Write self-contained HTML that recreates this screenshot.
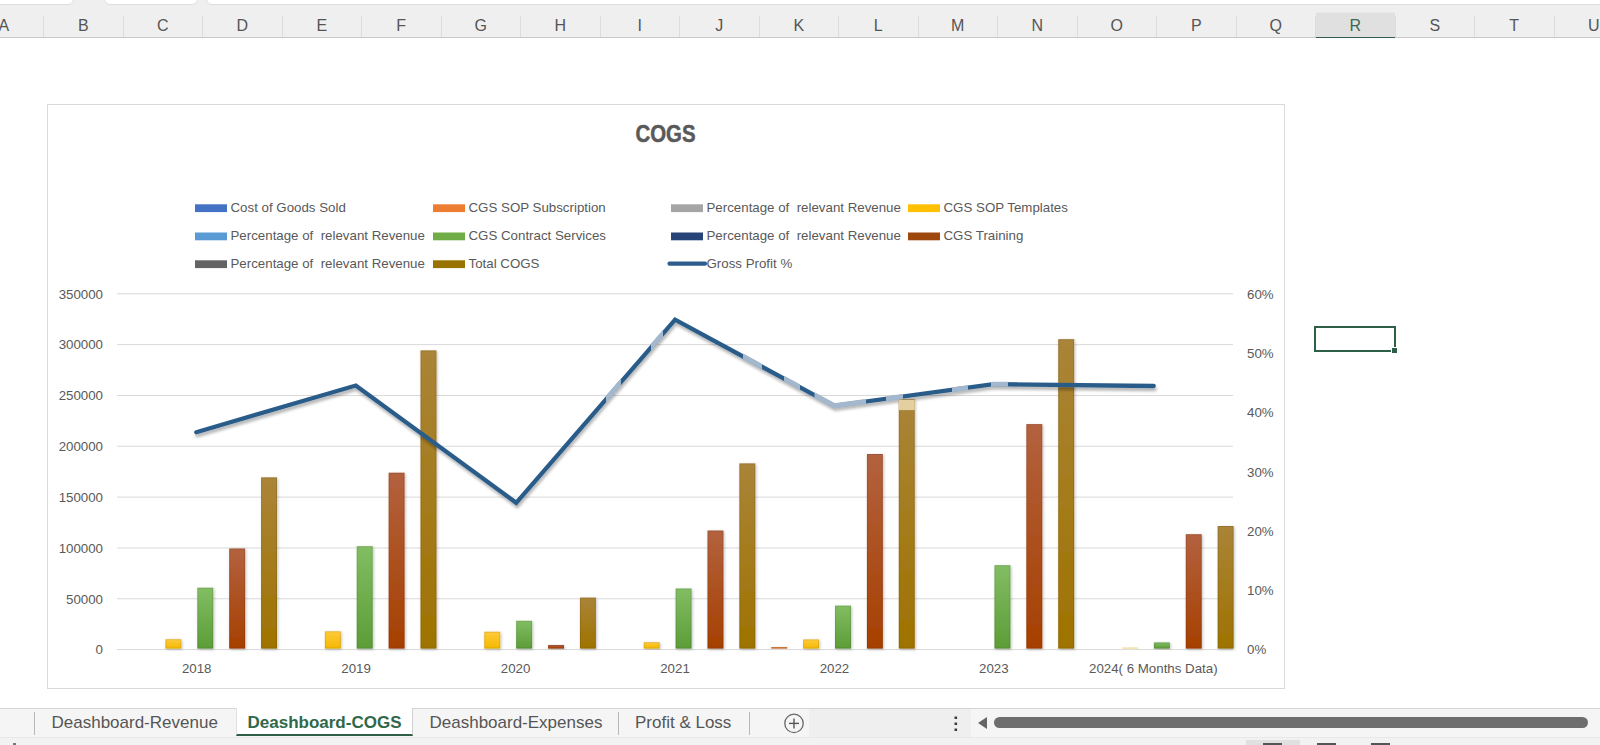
<!DOCTYPE html>
<html><head><meta charset="utf-8"><style>
html,body{margin:0;padding:0;}
body{width:1600px;height:745px;overflow:hidden;position:relative;background:#fff;font-family:"Liberation Sans",sans-serif;}
.top{position:absolute;left:0;top:0;width:1600px;height:38px;background:#efefef;border-bottom:1px solid #c8c8c8;box-sizing:border-box;}
.wbox{position:absolute;top:-5px;height:9.5px;background:#fff;border:1px solid #dedede;border-radius:0 0 6px 6px;box-sizing:border-box;}
.cl{position:absolute;top:14.5px;height:22px;line-height:22px;text-align:center;font-size:16px;color:#555;}
.cl.sel{color:#3a6b50;}
.selcol{position:absolute;top:12px;height:25.5px;background:#e0e0e0;border-top:1px solid #e8e8e8;border-bottom:1.7px solid #325d48;box-sizing:border-box;}
.sep{position:absolute;top:16px;height:21px;width:1px;background:#dcdcdc;}
svg{position:absolute;left:0;top:0;font-family:"Liberation Sans",sans-serif;}
.cell{position:absolute;left:1314px;top:326px;width:82px;height:26px;border:2px solid #2d5e46;box-sizing:border-box;}
.fh{position:absolute;left:1391px;top:347px;width:5px;height:5px;background:#2d5e46;border:1px solid #fff;border-right:none;border-bottom:none;}
.tabbar{position:absolute;left:0;top:708px;width:1600px;height:30px;background:#f5f5f5;border-top:1px solid #d4d4d4;box-sizing:border-box;}
.tab{position:absolute;top:709px;height:27px;line-height:27px;font-size:17px;color:#555;white-space:nowrap;}
.tsep{position:absolute;top:712px;height:23px;width:1px;background:#b8b8b8;}
.act{position:absolute;left:236px;top:708px;width:177px;height:28px;background:#fff;border-bottom:2px solid #2d5e46;border-left:1px solid #e0e0e0;border-right:1px solid #d0d0d0;box-sizing:border-box;}
.bottom{position:absolute;left:0;top:737px;width:1600px;height:8px;background:#f2f2f2;border-top:1px solid #e8e8e8;box-sizing:border-box;}
</style></head><body>
<div class="top">
<div class="wbox" style="left:-6px;width:80px"></div>
<div class="wbox" style="left:104px;width:94px"></div>
<div class="wbox" style="left:206px;width:1400px"></div>
<div class="cl" style="left:-36.0px;width:79.5px">A</div>
<div class="cl" style="left:43.5px;width:79.5px">B</div>
<div class="cl" style="left:123.0px;width:79.5px">C</div>
<div class="cl" style="left:202.5px;width:79.5px">D</div>
<div class="cl" style="left:282.0px;width:79.5px">E</div>
<div class="cl" style="left:361.5px;width:79.5px">F</div>
<div class="cl" style="left:441.0px;width:79.5px">G</div>
<div class="cl" style="left:520.5px;width:79.5px">H</div>
<div class="cl" style="left:600.0px;width:79.5px">I</div>
<div class="cl" style="left:679.5px;width:79.5px">J</div>
<div class="cl" style="left:759.0px;width:79.5px">K</div>
<div class="cl" style="left:838.5px;width:79.5px">L</div>
<div class="cl" style="left:918.0px;width:79.5px">M</div>
<div class="cl" style="left:997.5px;width:79.5px">N</div>
<div class="cl" style="left:1077.0px;width:79.5px">O</div>
<div class="cl" style="left:1156.5px;width:79.5px">P</div>
<div class="cl" style="left:1236.0px;width:79.5px">Q</div>
<div class="selcol" style="left:1315.5px;width:79.5px"></div>
<div class="cl sel" style="left:1315.5px;width:79.5px">R</div>
<div class="cl" style="left:1395.0px;width:79.5px">S</div>
<div class="cl" style="left:1474.5px;width:79.5px">T</div>
<div class="cl" style="left:1554.0px;width:79.5px">U</div>
<div class="sep" style="left:43.0px"></div>
<div class="sep" style="left:122.5px"></div>
<div class="sep" style="left:202.0px"></div>
<div class="sep" style="left:281.5px"></div>
<div class="sep" style="left:361.0px"></div>
<div class="sep" style="left:440.5px"></div>
<div class="sep" style="left:520.0px"></div>
<div class="sep" style="left:599.5px"></div>
<div class="sep" style="left:679.0px"></div>
<div class="sep" style="left:758.5px"></div>
<div class="sep" style="left:838.0px"></div>
<div class="sep" style="left:917.5px"></div>
<div class="sep" style="left:997.0px"></div>
<div class="sep" style="left:1076.5px"></div>
<div class="sep" style="left:1156.0px"></div>
<div class="sep" style="left:1235.5px"></div>
<div class="sep" style="left:1315.0px"></div>
<div class="sep" style="left:1394.5px"></div>
<div class="sep" style="left:1474.0px"></div>
<div class="sep" style="left:1553.5px"></div>
<div class="sep" style="left:1633.0px"></div>
</div>
<svg width="1600" height="745" viewBox="0 0 1600 745" style="top:0">
<defs>
<linearGradient id="gyel" x1="0" y1="0" x2="0" y2="1"><stop offset="0" stop-color="#ffcb3a"/><stop offset="1" stop-color="#f5b800"/></linearGradient>
<linearGradient id="ggrn" x1="0" y1="0" x2="0" y2="1"><stop offset="0" stop-color="#82bd63"/><stop offset="1" stop-color="#5c9d37"/></linearGradient>
<linearGradient id="gbrn" x1="0" y1="0" x2="0" y2="1"><stop offset="0" stop-color="#b3613f"/><stop offset="1" stop-color="#a64000"/></linearGradient>
<linearGradient id="ggld" x1="0" y1="0" x2="0" y2="1"><stop offset="0" stop-color="#aa8438"/><stop offset="1" stop-color="#9e7300"/></linearGradient>
<linearGradient id="gorg" x1="0" y1="0" x2="0" y2="1"><stop offset="0" stop-color="#e98a4e"/><stop offset="1" stop-color="#dd6f27"/></linearGradient>
<filter id="sh" x="-50%" y="-20%" width="200%" height="140%"><feGaussianBlur in="SourceAlpha" stdDeviation="1.4"/><feOffset dx="0.8" dy="0.5"/><feComponentTransfer><feFuncA type="linear" slope="0.25"/></feComponentTransfer><feMerge><feMergeNode/><feMergeNode in="SourceGraphic"/></feMerge></filter>
<filter id="lsh" x="-10%" y="-20%" width="120%" height="140%"><feGaussianBlur in="SourceAlpha" stdDeviation="1.6"/><feOffset dx="1" dy="2.5"/><feComponentTransfer><feFuncA type="linear" slope="0.3"/></feComponentTransfer><feMerge><feMergeNode/><feMergeNode in="SourceGraphic"/></feMerge></filter>
</defs>
<rect x="47.5" y="104.5" width="1237" height="584" fill="#fff" stroke="#d9d9d9" stroke-width="1"/>
<line x1="117" x2="1233" y1="293.80" y2="293.80" stroke="#d9d9d9" stroke-width="1"/>
<line x1="117" x2="1233" y1="344.63" y2="344.63" stroke="#d9d9d9" stroke-width="1"/>
<line x1="117" x2="1233" y1="395.46" y2="395.46" stroke="#d9d9d9" stroke-width="1"/>
<line x1="117" x2="1233" y1="446.29" y2="446.29" stroke="#d9d9d9" stroke-width="1"/>
<line x1="117" x2="1233" y1="497.11" y2="497.11" stroke="#d9d9d9" stroke-width="1"/>
<line x1="117" x2="1233" y1="547.94" y2="547.94" stroke="#d9d9d9" stroke-width="1"/>
<line x1="117" x2="1233" y1="598.77" y2="598.77" stroke="#d9d9d9" stroke-width="1"/>
<line x1="117" x2="1233" y1="649.60" y2="649.60" stroke="#d9d9d9" stroke-width="1"/>
<text x="665.5" y="142.3" text-anchor="middle" font-size="24" font-weight="bold" fill="#595959" stroke="#595959" stroke-width="0.5" transform="translate(665.5 0) scale(0.85 1) translate(-665.5 0)">COGS</text>
<text x="103" y="298.60" text-anchor="end" font-size="13.3" fill="#595959">350000</text>
<text x="1247" y="298.60" font-size="13.3" fill="#595959">60%</text>
<text x="103" y="349.43" text-anchor="end" font-size="13.3" fill="#595959">300000</text>
<text x="1247" y="357.90" font-size="13.3" fill="#595959">50%</text>
<text x="103" y="400.26" text-anchor="end" font-size="13.3" fill="#595959">250000</text>
<text x="1247" y="417.20" font-size="13.3" fill="#595959">40%</text>
<text x="103" y="451.09" text-anchor="end" font-size="13.3" fill="#595959">200000</text>
<text x="1247" y="476.50" font-size="13.3" fill="#595959">30%</text>
<text x="103" y="501.91" text-anchor="end" font-size="13.3" fill="#595959">150000</text>
<text x="1247" y="535.80" font-size="13.3" fill="#595959">20%</text>
<text x="103" y="552.74" text-anchor="end" font-size="13.3" fill="#595959">100000</text>
<text x="1247" y="595.10" font-size="13.3" fill="#595959">10%</text>
<text x="103" y="603.57" text-anchor="end" font-size="13.3" fill="#595959">50000</text>
<text x="1247" y="654.40" font-size="13.3" fill="#595959">0%</text>
<text x="103" y="654.40" text-anchor="end" font-size="13.3" fill="#595959">0</text>
<text x="196.71" y="672.5" text-anchor="middle" font-size="13.3" fill="#595959" xml:space="preserve">2018</text>
<text x="356.14" y="672.5" text-anchor="middle" font-size="13.3" fill="#595959" xml:space="preserve">2019</text>
<text x="515.57" y="672.5" text-anchor="middle" font-size="13.3" fill="#595959" xml:space="preserve">2020</text>
<text x="675.00" y="672.5" text-anchor="middle" font-size="13.3" fill="#595959" xml:space="preserve">2021</text>
<text x="834.43" y="672.5" text-anchor="middle" font-size="13.3" fill="#595959" xml:space="preserve">2022</text>
<text x="993.86" y="672.5" text-anchor="middle" font-size="13.3" fill="#595959" xml:space="preserve">2023</text>
<text x="1153.29" y="672.5" text-anchor="middle" font-size="13.3" fill="#595959" xml:space="preserve">2024( 6 Months Data)</text>
<rect x="165.43" y="639.20" width="15.94" height="9.40" fill="url(#gyel)" filter="url(#sh)"/>
<rect x="165.93" y="639.70" width="14.94" height="8.40" fill="none" stroke="#000" stroke-opacity="0.10" stroke-width="1"/>
<rect x="197.31" y="587.70" width="15.94" height="60.90" fill="url(#ggrn)" filter="url(#sh)"/>
<rect x="197.81" y="588.20" width="14.94" height="59.90" fill="none" stroke="#000" stroke-opacity="0.10" stroke-width="1"/>
<rect x="229.20" y="548.50" width="15.94" height="100.10" fill="url(#gbrn)" filter="url(#sh)"/>
<rect x="229.70" y="549.00" width="14.94" height="99.10" fill="none" stroke="#000" stroke-opacity="0.10" stroke-width="1"/>
<rect x="261.09" y="477.40" width="15.94" height="171.20" fill="url(#ggld)" filter="url(#sh)"/>
<rect x="261.59" y="477.90" width="14.94" height="170.20" fill="none" stroke="#000" stroke-opacity="0.10" stroke-width="1"/>
<rect x="324.86" y="631.30" width="15.94" height="17.30" fill="url(#gyel)" filter="url(#sh)"/>
<rect x="325.36" y="631.80" width="14.94" height="16.30" fill="none" stroke="#000" stroke-opacity="0.10" stroke-width="1"/>
<rect x="356.74" y="546.20" width="15.94" height="102.40" fill="url(#ggrn)" filter="url(#sh)"/>
<rect x="357.24" y="546.70" width="14.94" height="101.40" fill="none" stroke="#000" stroke-opacity="0.10" stroke-width="1"/>
<rect x="388.63" y="472.70" width="15.94" height="175.90" fill="url(#gbrn)" filter="url(#sh)"/>
<rect x="389.13" y="473.20" width="14.94" height="174.90" fill="none" stroke="#000" stroke-opacity="0.10" stroke-width="1"/>
<rect x="420.51" y="350.40" width="15.94" height="298.20" fill="url(#ggld)" filter="url(#sh)"/>
<rect x="421.01" y="350.90" width="14.94" height="297.20" fill="none" stroke="#000" stroke-opacity="0.10" stroke-width="1"/>
<rect x="484.29" y="631.70" width="15.94" height="16.90" fill="url(#gyel)" filter="url(#sh)"/>
<rect x="484.79" y="632.20" width="14.94" height="15.90" fill="none" stroke="#000" stroke-opacity="0.10" stroke-width="1"/>
<rect x="516.17" y="620.80" width="15.94" height="27.80" fill="url(#ggrn)" filter="url(#sh)"/>
<rect x="516.67" y="621.30" width="14.94" height="26.80" fill="none" stroke="#000" stroke-opacity="0.10" stroke-width="1"/>
<rect x="548.06" y="645.00" width="15.94" height="3.60" fill="url(#gbrn)" filter="url(#sh)"/>
<rect x="548.56" y="645.50" width="14.94" height="2.60" fill="none" stroke="#000" stroke-opacity="0.10" stroke-width="1"/>
<rect x="579.94" y="597.60" width="15.94" height="51.00" fill="url(#ggld)" filter="url(#sh)"/>
<rect x="580.44" y="598.10" width="14.94" height="50.00" fill="none" stroke="#000" stroke-opacity="0.10" stroke-width="1"/>
<rect x="643.71" y="642.20" width="15.94" height="6.40" fill="url(#gyel)" filter="url(#sh)"/>
<rect x="644.21" y="642.70" width="14.94" height="5.40" fill="none" stroke="#000" stroke-opacity="0.10" stroke-width="1"/>
<rect x="675.60" y="588.50" width="15.94" height="60.10" fill="url(#ggrn)" filter="url(#sh)"/>
<rect x="676.10" y="589.00" width="14.94" height="59.10" fill="none" stroke="#000" stroke-opacity="0.10" stroke-width="1"/>
<rect x="707.49" y="530.50" width="15.94" height="118.10" fill="url(#gbrn)" filter="url(#sh)"/>
<rect x="707.99" y="531.00" width="14.94" height="117.10" fill="none" stroke="#000" stroke-opacity="0.10" stroke-width="1"/>
<rect x="739.37" y="463.40" width="15.94" height="185.20" fill="url(#ggld)" filter="url(#sh)"/>
<rect x="739.87" y="463.90" width="14.94" height="184.20" fill="none" stroke="#000" stroke-opacity="0.10" stroke-width="1"/>
<rect x="771.26" y="647.00" width="15.94" height="1.60" fill="url(#gorg)" filter="url(#sh)"/>
<rect x="771.76" y="647.50" width="14.94" height="0.60" fill="none" stroke="#000" stroke-opacity="0.10" stroke-width="1"/>
<rect x="803.14" y="639.40" width="15.94" height="9.20" fill="url(#gyel)" filter="url(#sh)"/>
<rect x="803.64" y="639.90" width="14.94" height="8.20" fill="none" stroke="#000" stroke-opacity="0.10" stroke-width="1"/>
<rect x="835.03" y="605.60" width="15.94" height="43.00" fill="url(#ggrn)" filter="url(#sh)"/>
<rect x="835.53" y="606.10" width="14.94" height="42.00" fill="none" stroke="#000" stroke-opacity="0.10" stroke-width="1"/>
<rect x="866.91" y="454.00" width="15.94" height="194.60" fill="url(#gbrn)" filter="url(#sh)"/>
<rect x="867.41" y="454.50" width="14.94" height="193.60" fill="none" stroke="#000" stroke-opacity="0.10" stroke-width="1"/>
<rect x="898.80" y="399.00" width="15.94" height="249.60" fill="url(#ggld)" filter="url(#sh)"/>
<rect x="899.30" y="399.50" width="14.94" height="248.60" fill="none" stroke="#000" stroke-opacity="0.10" stroke-width="1"/>
<rect x="994.46" y="565.20" width="15.94" height="83.40" fill="url(#ggrn)" filter="url(#sh)"/>
<rect x="994.96" y="565.70" width="14.94" height="82.40" fill="none" stroke="#000" stroke-opacity="0.10" stroke-width="1"/>
<rect x="1026.34" y="424.10" width="15.94" height="224.50" fill="url(#gbrn)" filter="url(#sh)"/>
<rect x="1026.84" y="424.60" width="14.94" height="223.50" fill="none" stroke="#000" stroke-opacity="0.10" stroke-width="1"/>
<rect x="1058.23" y="339.20" width="15.94" height="309.40" fill="url(#ggld)" filter="url(#sh)"/>
<rect x="1058.73" y="339.70" width="14.94" height="308.40" fill="none" stroke="#000" stroke-opacity="0.10" stroke-width="1"/>
<rect x="1122.00" y="647.40" width="15.94" height="1.20" fill="url(#gyel)" filter="url(#sh)" opacity="0.45"/>
<rect x="1122.50" y="647.90" width="14.94" height="0.20" fill="none" stroke="#000" stroke-opacity="0.10" stroke-width="1" opacity="0.45"/>
<rect x="1153.89" y="642.40" width="15.94" height="6.20" fill="url(#ggrn)" filter="url(#sh)"/>
<rect x="1154.39" y="642.90" width="14.94" height="5.20" fill="none" stroke="#000" stroke-opacity="0.10" stroke-width="1"/>
<rect x="1185.77" y="534.20" width="15.94" height="114.40" fill="url(#gbrn)" filter="url(#sh)"/>
<rect x="1186.27" y="534.70" width="14.94" height="113.40" fill="none" stroke="#000" stroke-opacity="0.10" stroke-width="1"/>
<rect x="1217.66" y="526.00" width="15.94" height="122.60" fill="url(#ggld)" filter="url(#sh)"/>
<rect x="1218.16" y="526.50" width="14.94" height="121.60" fill="none" stroke="#000" stroke-opacity="0.10" stroke-width="1"/>
<polyline points="196.3,432.2 355.8,385.5 516.2,502.8 675.1,319.7 834.3,405.8 993.5,384.2 1153.7,386.0" fill="none" stroke="#2b5c8a" stroke-width="4.3" stroke-linejoin="miter" stroke-linecap="round" filter="url(#lsh)"/>
<clipPath id="wm"><rect x="606" y="300" width="15" height="220"/><rect x="651" y="300" width="12" height="220"/><rect x="743" y="300" width="19" height="220"/><rect x="784" y="300" width="16" height="220"/><rect x="814.5" y="300" width="51.5" height="220"/><rect x="886" y="300" width="17" height="220"/><rect x="952" y="300" width="16" height="220"/><rect x="991" y="300" width="17" height="220"/></clipPath>
<polyline points="196.3,432.2 355.8,385.5 516.2,502.8 675.1,319.7 834.3,405.8 993.5,384.2 1153.7,386.0" fill="none" stroke="#a3b8cd" stroke-width="5" stroke-linejoin="miter" stroke-linecap="round" clip-path="url(#wm)"/>
<rect x="898.8" y="399.6" width="15.94" height="10.5" fill="#e3cf9f"/>
<rect x="195" y="204.30" width="32" height="7.8" fill="#4472c4"/>
<text x="230.5" y="212.10" font-size="13.3" fill="#595959" xml:space="preserve">Cost of Goods Sold</text>
<rect x="433" y="204.30" width="32" height="7.8" fill="#ed7d31"/>
<text x="468.5" y="212.10" font-size="13.3" fill="#595959" xml:space="preserve">CGS SOP Subscription</text>
<rect x="671" y="204.30" width="32" height="7.8" fill="#a5a5a5"/>
<text x="706.5" y="212.10" font-size="13.3" fill="#595959" xml:space="preserve">Percentage of  relevant Revenue</text>
<rect x="908" y="204.30" width="32" height="7.8" fill="#ffc000"/>
<text x="943.5" y="212.10" font-size="13.3" fill="#595959" xml:space="preserve">CGS SOP Templates</text>
<rect x="195" y="232.50" width="32" height="7.8" fill="#5b9bd5"/>
<text x="230.5" y="240.30" font-size="13.3" fill="#595959" xml:space="preserve">Percentage of  relevant Revenue</text>
<rect x="433" y="232.50" width="32" height="7.8" fill="#70ad47"/>
<text x="468.5" y="240.30" font-size="13.3" fill="#595959" xml:space="preserve">CGS Contract Services</text>
<rect x="671" y="232.50" width="32" height="7.8" fill="#264478"/>
<text x="706.5" y="240.30" font-size="13.3" fill="#595959" xml:space="preserve">Percentage of  relevant Revenue</text>
<rect x="908" y="232.50" width="32" height="7.8" fill="#9e480e"/>
<text x="943.5" y="240.30" font-size="13.3" fill="#595959" xml:space="preserve">CGS Training</text>
<rect x="195" y="260.30" width="32" height="7.8" fill="#636363"/>
<text x="230.5" y="268.10" font-size="13.3" fill="#595959" xml:space="preserve">Percentage of  relevant Revenue</text>
<rect x="433" y="260.30" width="32" height="7.8" fill="#997300"/>
<text x="468.5" y="268.10" font-size="13.3" fill="#595959" xml:space="preserve">Total COGS</text>
<line x1="669.5" x2="705" y1="263.70" y2="263.70" stroke="#2c5d8c" stroke-width="4.2" stroke-linecap="round"/>
<text x="706.5" y="268.10" font-size="13.3" fill="#595959" xml:space="preserve">Gross Profit %</text>
</svg>
<div class="cell"></div><div class="fh"></div>
<div class="tabbar"></div>
<div style="position:absolute;left:809px;top:709px;width:162px;height:28px;background:#efefef"></div>
<div class="act"></div>
<div class="tsep" style="left:34px"></div>
<div class="tsep" style="left:618px"></div>
<div class="tsep" style="left:749px"></div>
<div class="tab" style="left:51.5px">Deashboard-Revenue</div>
<div class="tab" style="left:247.5px;font-weight:bold;color:#30684a">Deashboard-COGS</div>
<div class="tab" style="left:429.5px">Deashboard-Expenses</div>
<div class="tab" style="left:635px">Profit &amp; Loss</div>
<svg width="1600" height="745" style="top:0;left:0;pointer-events:none">
<circle cx="794" cy="723.4" r="9.2" fill="none" stroke="#666" stroke-width="1.3"/>
<line x1="789" x2="799" y1="723.4" y2="723.4" stroke="#555" stroke-width="1.4"/>
<line x1="794" x2="794" y1="718.4" y2="728.4" stroke="#555" stroke-width="1.4"/>
<rect x="954.5" y="716.5" width="2.6" height="2.6" rx="0.5" fill="#3a3a3a"/>
<rect x="954.5" y="722.5" width="2.6" height="2.6" rx="0.5" fill="#3a3a3a"/>
<rect x="954.5" y="728.5" width="2.6" height="2.6" rx="0.5" fill="#3a3a3a"/>
<path d="M978 723 L987 717 L987 729 Z" fill="#666"/>
<rect x="994" y="717" width="594" height="11" rx="5.5" fill="#6e6e6e"/>
</svg>
<div class="bottom"></div>
<div style="position:absolute;left:13px;top:743px;width:3px;height:2px;background:#777"></div>
<div style="position:absolute;left:1246px;top:740px;width:54px;height:5px;background:#e0e0e0"></div>
<div style="position:absolute;left:1263px;top:743px;width:19px;height:2px;background:#555"></div>
<div style="position:absolute;left:1317px;top:743px;width:19px;height:2px;background:#555"></div>
<div style="position:absolute;left:1371px;top:743px;width:19px;height:2px;background:#555"></div>
</body></html>
